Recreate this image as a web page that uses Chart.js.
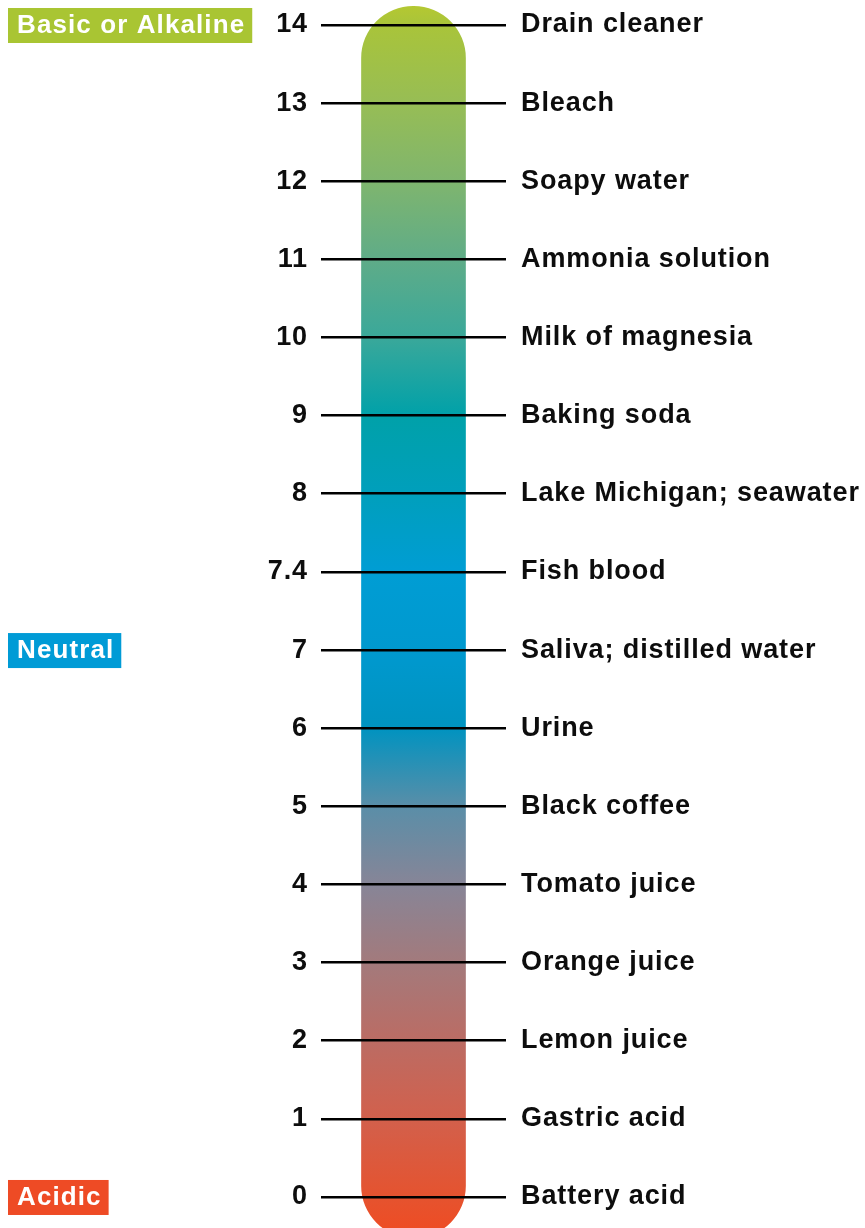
<!DOCTYPE html>
<html>
<head>
<meta charset="utf-8">
<script src="https://cdn.jsdelivr.net/npm/chart.js@4.4.1/dist/chart.umd.min.js"></script>
<style>
  html, body { margin: 0; padding: 0; background: #fff; }
  #wrap { width: 865px; height: 1228px; position: relative; }
</style>
</head>
<body>
<div id="wrap"><canvas id="phChart"></canvas></div>
<script>
// rows go bottom (0) to top (14); 7.4 gets its own evenly spaced row
const phLabels = ['0', '1', '2', '3', '4', '5', '6', '7', '7.4', '8', '9', '10', '11', '12', '13', '14'];
const substances = [
  'Battery acid', 'Gastric acid', 'Lemon juice', 'Orange juice', 'Tomato juice',
  'Black coffee', 'Urine', 'Saliva; distilled water', 'Fish blood',
  'Lake Michigan; seawater', 'Baking soda', 'Milk of magnesia',
  'Ammonia solution', 'Soapy water', 'Bleach', 'Drain cleaner'
];
const bandColors = [
  '#e5532f', '#d2604c', '#bb6c64', '#a37a7c', '#878597', '#5a8ea8', '#0093c0',
  '#0099cf', '#009dd4', '#009fbc', '#00a1a9', '#3aa89a', '#5fac88', '#7fb56e',
  '#97bd55', '#a9c43a'
];
const capColors = ['#f04b22', '#b4c832']; // bottom end, top end of the tube
const barRange = [-0.52, 15.24];

const zoneLabels = ['Acidic', 'Neutral', 'Basic or Alkaline'];
const zoneRows = [0, 7, 15];
const zoneColors = ['#ee4b25', '#009bd6', '#a9c533'];

const rows = phLabels.map((_, i) => i);
const FONT = { family: '"Liberation Sans", Arial, sans-serif', size: 27, weight: 'bold' };

// canvas text spacing, the original type is set a touch loose
const spacingPlugin = {
  id: 'spacing',
  beforeDraw(chart) { chart.ctx.letterSpacing = '0.9px'; }
};

// coloured zone tags on the far left
const zonePlugin = {
  id: 'zones',
  afterDraw(chart) {
    const { ctx } = chart;
    const scale = chart.scales.yNum;
    ctx.save();
    ctx.letterSpacing = '1.1px';
    ctx.font = 'bold 26px "Liberation Sans", Arial, sans-serif';
    ctx.textBaseline = 'middle';
    ctx.textAlign = 'left';
    zoneLabels.forEach((label, i) => {
      const y = scale.getPixelForValue(zoneRows[i]);
      const w = ctx.measureText(label).width;
      ctx.fillStyle = zoneColors[i];
      ctx.fillRect(8, y - 17, w + 16, 35);
      ctx.fillStyle = '#fff';
      ctx.fillText(label, 17, y + 1);
    });
    ctx.restore();
  }
};

function tubeGradient(context) {
  const chart = context.chart;
  const scale = chart.scales.yNum;
  if (!chart.chartArea || !scale) return bandColors[7];
  const top = scale.getPixelForValue(barRange[1]);
  const bottom = scale.getPixelForValue(barRange[0]);
  const g = chart.ctx.createLinearGradient(0, top, 0, bottom);
  const pos = v => Math.min(1, Math.max(0, (scale.getPixelForValue(v) - top) / (bottom - top)));
  g.addColorStop(0, capColors[1]);
  for (let i = rows.length - 1; i >= 0; i--) {
    g.addColorStop(pos(rows[i]), bandColors[i]);
  }
  g.addColorStop(1, capColors[0]);
  return g;
}

const yMin = -0.397;
const yMax = 15.32;

new Chart(document.getElementById('phChart'), {
  type: 'bar',
  data: {
    labels: ['pH'],
    datasets: [{
      data: [barRange],
      yAxisID: 'yNum',
      backgroundColor: tubeGradient,
      barThickness: 104,
      borderRadius: 52,
      borderSkipped: false
    }]
  },
  options: {
    responsive: true,
    maintainAspectRatio: false,
    animation: false,
    layout: { padding: 0 },
    plugins: { legend: { display: false }, tooltip: { enabled: false } },
    scales: {
      x: { type: 'category', display: false },
      yNum: {
        type: 'linear',
        position: 'left',
        min: yMin,
        max: yMax,
        afterBuildTicks: scale => { scale.ticks = rows.map(v => ({ value: v })); },
        afterFit: scale => { scale.width = 321; scale.paddingTop = 0; scale.paddingBottom = 0; },
        ticks: {
          font: FONT,
          color: '#0d0d0d',
          padding: 13,
          callback: v => phLabels[v]
        },
        grid: { color: '#000', lineWidth: 2.6, drawTicks: false, z: 1 },
        border: { display: false }
      },
      yName: {
        type: 'linear',
        position: 'right',
        min: yMin,
        max: yMax,
        afterBuildTicks: scale => { scale.ticks = rows.map(v => ({ value: v })); },
        afterFit: scale => { scale.width = 359; scale.paddingTop = 0; scale.paddingBottom = 0; },
        ticks: {
          font: FONT,
          color: '#0d0d0d',
          padding: 15,
          callback: v => substances[v]
        },
        grid: { display: false, drawTicks: false },
        border: { display: false }
      }
    }
  },
  plugins: [spacingPlugin, zonePlugin]
});
</script>
</body>
</html>
